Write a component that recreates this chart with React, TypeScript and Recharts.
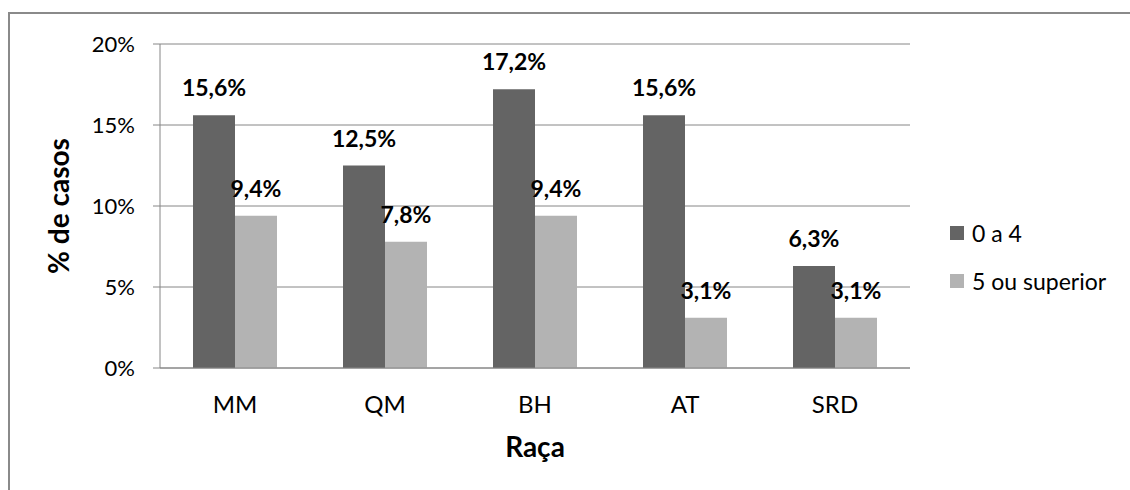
import { Bar, BarChart, CartesianGrid, LabelList, Legend, XAxis, YAxis } from 'recharts';

const categories = ['MM', 'QM', 'BH', 'AT', 'SRD'];
const ages0to4 = [15.6, 12.5, 17.2, 15.6, 6.3];
const ages5plus = [9.4, 7.8, 9.4, 3.1, 3.1];
const yTicks = [0, 5, 10, 15, 20];

const seriesNames = { a: '0 a 4', b: '5 ou superior' };
const DARK = '#646464';
const LIGHT = '#b3b3b3';
const GRID = '#868686';
const FONT = 'Lato, "Open Sans", sans-serif';

const data = categories.map((name, i) => ({ name, a: ages0to4[i], b: ages5plus[i] }));

const pct = (v: number) => `${v.toFixed(1).replace('.', ',')}%`;

function YTitle({ viewBox }: any) {
  const x = viewBox.x - 31;
  const y = viewBox.y + viewBox.height / 2;
  return (
    <text
      x={x}
      y={y}
      transform={`rotate(-90 ${x} ${y})`}
      textAnchor="middle"
      fontFamily={FONT}
      fontSize={28}
      fontWeight="bold"
      fill="#000"
    >
      % de casos
    </text>
  );
}

function XTitle({ viewBox }: any) {
  return (
    <text
      x={viewBox.x + viewBox.width / 2}
      y={viewBox.y + 89}
      textAnchor="middle"
      fontFamily={FONT}
      fontSize={28}
      fontWeight="bold"
      fill="#000"
    >
      Raça
    </text>
  );
}

function LegendBox({ payload }: any) {
  return (
    <div style={{ fontFamily: FONT, fontSize: 23, color: '#000' }}>
      {(payload || []).map((p: any) => (
        <div key={p.value} style={{ display: 'flex', alignItems: 'center', height: 48 }}>
          <span style={{ width: 14, height: 14, background: p.color, marginRight: 8 }} />
          <span>{p.value}</span>
        </div>
      ))}
    </div>
  );
}

export default function App() {
  return (
    <div style={{ position: 'absolute', left: 0, top: 0, width: 1130, height: 490, background: '#fff', overflow: 'hidden' }}>
      <div
        style={{
          position: 'absolute',
          left: 8,
          top: 12,
          width: 1140,
          height: 500,
          borderLeft: '2px solid #8a8a8a',
          borderTop: '2px solid #8a8a8a',
        }}
      />
      <BarChart
        width={1130}
        height={490}
        data={data}
        margin={{ top: 44, right: 40, bottom: 82, left: 100 }}
        barCategoryGap={33}
        barGap={0}
        style={{ position: 'absolute', left: 0, top: 0 }}
      >
        <CartesianGrid stroke={GRID} vertical={false} />
        <XAxis
          dataKey="name"
          height={40}
          axisLine={{ stroke: GRID }}
          tickLine={false}
          tickSize={0}
          tickMargin={28}
          tick={{ fontFamily: FONT, fontSize: 24, fill: '#000' }}
          label={{ content: (p: any) => <XTitle viewBox={p.viewBox} /> }}
        />
        <YAxis
          width={60}
          domain={[0, 20]}
          ticks={yTicks}
          interval={0}
          axisLine={{ stroke: GRID }}
          tickLine={{ stroke: GRID }}
          tickSize={7}
          tickMargin={18}
          tickFormatter={(v) => `${v}%`}
          tick={{ fontFamily: FONT, fontSize: 22, fill: '#000' }}
          label={{ content: (p: any) => <YTitle viewBox={p.viewBox} /> }}
        />
        <Legend
          layout="vertical"
          align="right"
          verticalAlign="middle"
          content={<LegendBox />}
          wrapperStyle={{ left: 950, top: 209, width: 180, right: 'auto', bottom: 'auto' }}
        />
        <Bar dataKey="a" name={seriesNames.a} fill={DARK} isAnimationActive={false}>
          <LabelList
            dataKey="a"
            position="top"
            offset={19}
            formatter={(v: any) => pct(Number(v))}
            style={{ fontFamily: FONT, fontSize: 23, fontWeight: 'bold', fill: '#000' }}
          />
        </Bar>
        <Bar dataKey="b" name={seriesNames.b} fill={LIGHT} isAnimationActive={false}>
          <LabelList
            dataKey="b"
            position="top"
            offset={19}
            formatter={(v: any) => pct(Number(v))}
            style={{ fontFamily: FONT, fontSize: 23, fontWeight: 'bold', fill: '#000' }}
          />
        </Bar>
      </BarChart>
    </div>
  );
}
